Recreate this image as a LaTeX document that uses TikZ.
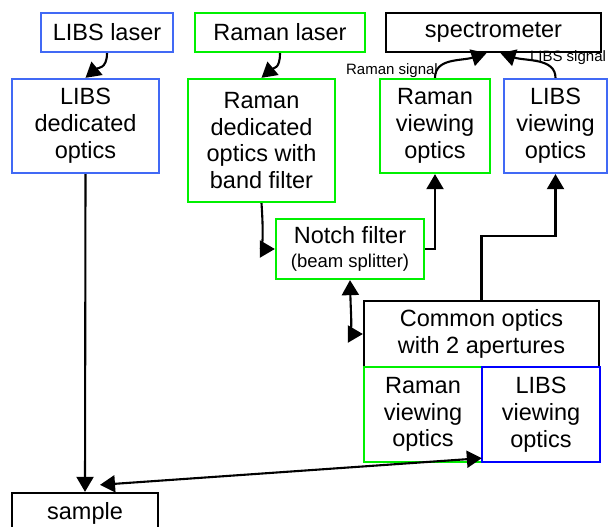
\documentclass[tikz,border=0pt]{standalone}
\usepackage{fontspec}
\setmainfont{Liberation Sans}
\usetikzlibrary{arrows.meta,calc}
\definecolor{lblue}{RGB}{65,105,245}
\definecolor{dblue}{RGB}{0,0,255}
\definecolor{lgreen}{RGB}{0,240,0}
\tikzset{
  box/.style={draw=#1,line width=2.3pt,fill=white,inner sep=0pt,align=center,
    font=\fontsize{23.5}{26.8}\selectfont},
  conn/.style={line width=2.1pt,-{Triangle[length=15pt,width=17pt]}},
  dconn/.style={line width=2.1pt,{Triangle[length=15pt,width=17pt]}-{Triangle[length=15pt,width=17pt]}},
  lab/.style={inner sep=0pt,font=\fontsize{15}{17}\selectfont},
}
\begin{document}
\begin{tikzpicture}[x=1pt,y=-1pt]
\useasboundingbox (0,0) rectangle (610,527);
\node[box=lblue,minimum width=132pt,minimum height=39pt] (libslaser) at (107,32.5) {LIBS laser};
\node[box=lgreen,minimum width=170pt,minimum height=39pt] (ramanlaser) at (280,32.5) {Raman laser};
\node[box=black,minimum width=215pt,minimum height=39pt] (spec) at (493.5,32.5) {spectrometer};
\node[box=lblue,minimum width=147pt,minimum height=94pt] (libsded) at (85.5,126) {LIBS\\dedicated\\optics};
\node[box=lgreen,minimum width=147pt,minimum height=123pt] (ramanded) at (261.5,140.5) {Raman\\dedicated\\optics with\\band filter};
\node[box=lgreen,minimum width=110pt,minimum height=94pt] (ramanview) at (435,126) {Raman\\viewing\\optics};
\node[box=lblue,minimum width=103pt,minimum height=94pt] (libsview) at (555.5,126) {LIBS\\viewing\\optics};
\node[box=lgreen,minimum width=148pt,minimum height=60pt] (notch) at (350,249) {Notch filter\\[-3pt]{\fontsize{18.5}{20}\selectfont (beam splitter)}};
\node[box=black,minimum width=235pt,minimum height=66pt] (common) at (481.5,334) {Common optics\\with 2 apertures};
\node[box=lgreen,minimum width=118pt,minimum height=95pt] (ramanview2) at (423,414.5) {Raman\\viewing\\optics};
\node[box=dblue,minimum width=118pt,minimum height=95pt] (libsview2) at (541,414.5) {LIBS\\viewing\\optics};
\node[box=black,minimum width=146pt,minimum height=40pt] (sample) at (85,513) {sample};
\node[lab] (ramansig) at (392,71) {Raman signal};
\node[lab] (libssig) at (568,58) {LIBS signal};
% connectors
\draw[conn] (libslaser.south) .. controls +(0,16) and +(12,-10) .. (libsded.north);
\draw[conn] (ramanlaser.south) .. controls +(0,16) and +(12,-10) .. (ramanded.north);
\draw[conn] (ramanview.north) .. controls +(0,-20) and +(-25,8) .. ($(spec.south)+(-7,0)$);
\draw[conn] (libsview.north) .. controls +(0,-20) and +(25,8) .. ($(spec.south)+(7,0)$);
\draw[conn] (ramanded.south) .. controls +(2,30) and +(-12,0) .. (notch.west);
\draw[dconn] (notch.south) .. controls +(1,40) and +(-10,0) .. (common.west);
\draw[conn] (notch.east) -| (ramanview.south);
\draw[conn] (common.north) -- ++(0,-64) -| (libsview.south);
\draw[conn] (libsded.south) -- (sample.north);
\coordinate (s1) at ($(sample.north)+(15,-7)$);
\coordinate (s2) at ($(libsview2.south west)+(1,-5)$);
\draw[dconn] (s1) -- (s2);
\end{tikzpicture}
\end{document}
